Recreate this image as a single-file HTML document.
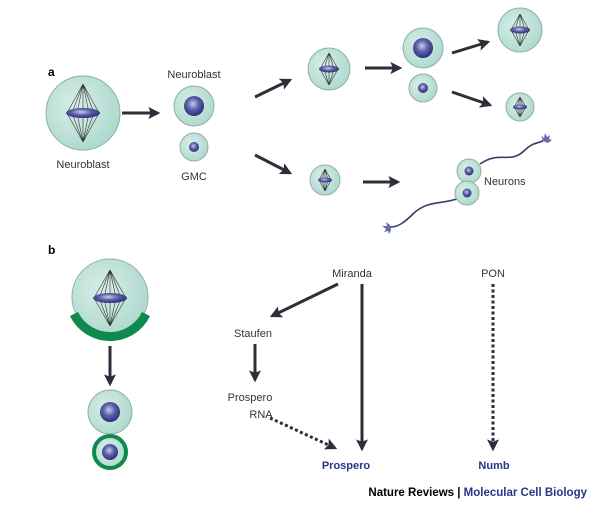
<!DOCTYPE html>
<html><head><meta charset="utf-8"><style>
html,body{margin:0;padding:0;background:#fff;}
svg{display:block;}
text{font-family:"Liberation Sans",sans-serif;}
</style></head><body>
<svg width="600" height="505" viewBox="0 0 600 505" xmlns="http://www.w3.org/2000/svg">
<defs>
<radialGradient id="cy" cx="0.4" cy="0.4" r="0.7"><stop offset="0" stop-color="#d8efe8"/><stop offset="1" stop-color="#a9d6cb"/></radialGradient>
<radialGradient id="nu" cx="0.45" cy="0.4" r="0.6"><stop offset="0" stop-color="#c9cbe8"/><stop offset="0.5" stop-color="#5a5fa8"/><stop offset="1" stop-color="#2b2f78"/></radialGradient>
<marker id="ah" viewBox="0 0 10 10" refX="8" refY="5" markerWidth="4" markerHeight="4" orient="auto" markerUnits="strokeWidth"><path d="M0,0 L10,5 L0,10 L2,5 z" fill="#2a2f3a"/></marker>
<g id="spindle">
<path d="M0,-1 L-1,0 M0,-1 L1,0" fill="none"/>
</g>
</defs>
<g stroke="#8aa8a0" stroke-width="1">
</g>
<!-- helper: cell with spindle -->
<!-- a: big neuroblast -->
<g>
<circle cx="83" cy="113" r="37" fill="url(#cy)" stroke="#8fb0a8"/>
<g stroke="#333" stroke-width="0.6" fill="none">
<path d="M83,84 L67,113 L83,142 M83,84 L72,113 L83,142 M83,84 L77,113 L83,142 M83,84 L83,142 M83,84 L89,113 L83,142 M83,84 L94,113 L83,142 M83,84 L99,113 L83,142"/>
</g>
<ellipse cx="83" cy="113" rx="17" ry="5" fill="url(#nu)"/>
</g>
<text x="83" y="168" font-size="11" text-anchor="middle" fill="#333">Neuroblast</text>
<line x1="122" y1="113" x2="158" y2="113" stroke="#2a2f3a" stroke-width="3" marker-end="url(#ah)"/>
<text x="194" y="78" font-size="11" text-anchor="middle" fill="#333">Neuroblast</text>
<circle cx="194" cy="106" r="20" fill="url(#cy)" stroke="#8fb0a8"/>
<circle cx="194" cy="106" r="10" fill="url(#nu)"/>
<circle cx="194" cy="147" r="14" fill="url(#cy)" stroke="#8fb0a8"/>
<circle cx="194" cy="147" r="5" fill="url(#nu)"/>
<text x="194" y="180" font-size="11" text-anchor="middle" fill="#333">GMC</text>
<line x1="255" y1="97" x2="290" y2="80" stroke="#2a2f3a" stroke-width="3" marker-end="url(#ah)"/>
<!-- mitotic cells -->
<g>
<circle cx="329" cy="69" r="21" fill="url(#cy)" stroke="#8fb0a8"/>
<path d="M329,53 L320,69 L329,85 M329,53 L324,69 L329,85 M329,53 L329,85 M329,53 L334,69 L329,85 M329,53 L338,69 L329,85" stroke="#333" stroke-width="0.6" fill="none"/>
<ellipse cx="329" cy="69" rx="10" ry="3.5" fill="url(#nu)"/>
</g>
<line x1="365" y1="68" x2="400" y2="68" stroke="#2a2f3a" stroke-width="3" marker-end="url(#ah)"/>
<circle cx="423" cy="48" r="20" fill="url(#cy)" stroke="#8fb0a8"/>
<circle cx="423" cy="48" r="10" fill="url(#nu)"/>
<circle cx="423" cy="88" r="14" fill="url(#cy)" stroke="#8fb0a8"/>
<circle cx="423" cy="88" r="5" fill="url(#nu)"/>
<line x1="452" y1="53" x2="488" y2="42" stroke="#2a2f3a" stroke-width="3" marker-end="url(#ah)"/>
<g>
<circle cx="520" cy="30" r="22" fill="url(#cy)" stroke="#8fb0a8"/>
<path d="M520,14 L511,30 L520,46 M520,14 L515,30 L520,46 M520,14 L520,46 M520,14 L525,30 L520,46 M520,14 L529,30 L520,46" stroke="#333" stroke-width="0.6" fill="none"/>
<ellipse cx="520" cy="30" rx="10" ry="3.5" fill="url(#nu)"/>
</g>
<line x1="452" y1="92" x2="490" y2="105" stroke="#2a2f3a" stroke-width="3" marker-end="url(#ah)"/>
<g>
<circle cx="520" cy="107" r="14" fill="url(#cy)" stroke="#8fb0a8"/>
<path d="M520,97 L514,107 L520,117 M520,97 L517,107 L520,117 M520,97 L520,117 M520,97 L523,107 L520,117 M520,97 L526,107 L520,117" stroke="#333" stroke-width="0.6" fill="none"/>
<ellipse cx="520" cy="107" rx="7" ry="2.5" fill="url(#nu)"/>
</g>
<line x1="255" y1="155" x2="290" y2="173" stroke="#2a2f3a" stroke-width="3" marker-end="url(#ah)"/>
<g>
<circle cx="325" cy="180" r="15" fill="url(#cy)" stroke="#8fb0a8"/>
<path d="M325,169 L319,180 L325,191 M325,169 L322,180 L325,191 M325,169 L325,191 M325,169 L328,180 L325,191 M325,169 L331,180 L325,191" stroke="#333" stroke-width="0.6" fill="none"/>
<ellipse cx="325" cy="180" rx="7" ry="2.5" fill="url(#nu)"/>
</g>
<line x1="363" y1="182" x2="398" y2="182" stroke="#2a2f3a" stroke-width="3" marker-end="url(#ah)"/>
<!-- neurons -->
<path d="M480,164 C500,150 510,165 525,150 C535,140 540,145 546,138" stroke="#3a3d6a" stroke-width="1.6" fill="none"/>
<path d="M460,198 C440,205 430,200 415,212 C405,222 398,228 388,227" stroke="#3a3d6a" stroke-width="1.6" fill="none"/>
<path d="M543,141 l-2,-6 l3,3 l1,-5 l2,4 l3,-2 l-1,4 l3,1 l-4,3 z" fill="#6a6db0"/>
<path d="M390,225 l-4,-3 l1,4 l-5,0 l4,3 l-2,3 l4,-1 l1,3 l2,-4 z" fill="#6a6db0"/>
<circle cx="469" cy="171" r="12" fill="url(#cy)" stroke="#8fb0a8"/>
<circle cx="469" cy="171" r="4.5" fill="url(#nu)"/>
<circle cx="467" cy="193" r="12" fill="url(#cy)" stroke="#8fb0a8"/>
<circle cx="467" cy="193" r="4.5" fill="url(#nu)"/>
<text x="484" y="185" font-size="11" fill="#333">Neurons</text>
<text x="48" y="76" font-size="12" font-weight="bold" fill="#000">a</text>
<text x="48" y="254" font-size="12" font-weight="bold" fill="#000">b</text>
<!-- b left -->
<g>
<circle cx="110" cy="297" r="38" fill="url(#cy)" stroke="#8fb0a8"/>
<path d="M110,270 L94,298 L110,326 M110,270 L99,298 L110,326 M110,270 L104,298 L110,326 M110,270 L110,326 M110,270 L116,298 L110,326 M110,270 L121,298 L110,326 M110,270 L126,298 L110,326" stroke="#333" stroke-width="0.6" fill="none"/>
<ellipse cx="110" cy="298" rx="17" ry="5" fill="url(#nu)"/>
<path d="M74,314 A40,40 0 0 0 146,314" stroke="#0f8a4e" stroke-width="9" fill="none"/>
</g>
<line x1="110" y1="346" x2="110" y2="384" stroke="#2a2f3a" stroke-width="3" marker-end="url(#ah)"/>
<circle cx="110" cy="412" r="22" fill="url(#cy)" stroke="#8fb0a8"/>
<circle cx="110" cy="412" r="10" fill="url(#nu)"/>
<circle cx="110" cy="452" r="16" fill="url(#cy)" stroke="#0f8a4e" stroke-width="4"/>
<circle cx="110" cy="452" r="8" fill="url(#nu)"/>
<!-- b right -->
<g font-size="11" fill="#333" text-anchor="middle">
<text x="352" y="277">Miranda</text>
<text x="253" y="337">Staufen</text>
<text x="250" y="401">Prospero</text>
<text x="261" y="418">RNA</text>
<text x="493" y="277">PON</text>
</g>
<line x1="338" y1="284" x2="272" y2="316" stroke="#2a2f3a" stroke-width="3" marker-end="url(#ah)"/>
<line x1="255" y1="344" x2="255" y2="380" stroke="#2a2f3a" stroke-width="3" marker-end="url(#ah)"/>
<line x1="362" y1="284" x2="362" y2="449" stroke="#2a2f3a" stroke-width="3" marker-end="url(#ah)"/>
<line x1="270" y1="418" x2="335" y2="448" stroke="#2a2f3a" stroke-width="3" stroke-dasharray="3,2.5" marker-end="url(#ah)"/>
<line x1="493" y1="284" x2="493" y2="449" stroke="#2a2f3a" stroke-width="3" stroke-dasharray="3,2.5" marker-end="url(#ah)"/>
<g font-size="11" font-weight="bold" fill="#2b3388" text-anchor="middle">
<text x="346" y="469">Prospero</text>
<text x="494" y="469">Numb</text>
</g>
<text x="587" y="496" font-size="11.5" font-weight="bold" text-anchor="end"><tspan fill="#000">Nature Reviews | </tspan><tspan fill="#2b3388">Molecular Cell Biology</tspan></text>
</svg>
</body></html>
